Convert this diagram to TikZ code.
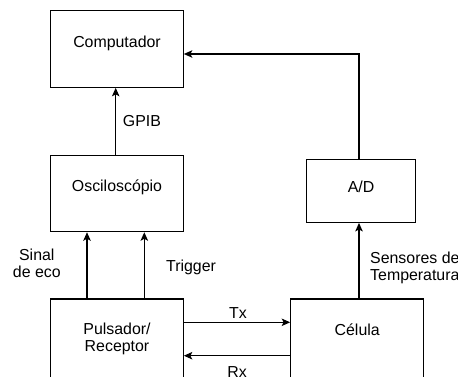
\documentclass[tikz,border=0pt]{standalone}
\usepackage{fontspec}
\setmainfont{Liberation Sans}
\usetikzlibrary{arrows.meta}
\begin{document}
\begin{tikzpicture}[x=1pt,y=-1pt,
  box/.style={draw, line width=1.1pt, inner sep=0pt, minimum width=#1},
  txt/.style={inner sep=0pt, anchor=base, font=\fontsize{15.9pt}{16.5pt}\selectfont, align=center},
  conn/.style={line width=1.1pt, -{Stealth[length=8.5pt,width=7.5pt,inset=2pt]}},
  plain/.style={line width=1.1pt}]
\useasboundingbox (0,0) rectangle (458,376);
\fill[white] (0,0) rectangle (458,376);
% boxes
\node[box=132.6pt, minimum height=76.6pt] (comp) at (117,49) {};
\node[box=132.6pt, minimum height=76.6pt] (osc) at (117,193.4) {};
\node[box=109.4pt, minimum height=63.3pt] (ad) at (361,190.7) {};
\node[box=132.6pt, minimum height=79pt] (pul) at (117,338.5) {};
\node[box=133pt, minimum height=79pt] (cel) at (357.2,338.5) {};
% box texts
\node[txt] (tcomp) at (117,47.5) {Computador};
\node[txt] (tosc) at (117,191.5) {Osciloscópio};
\node[txt] (tad) at (361,192.7) {A/D};
\node[txt] (tpul1) at (117,334.7) {Pulsador/};
\node[txt] (tpul2) at (117,351.3) {Receptor};
\node[txt] (tcel) at (357.2,335.6) {Célula};
% helper coordinates
\coordinate (xg) at (115.7,0);
\coordinate (xs) at (87,0);
\coordinate (xt) at (144.3,0);
\coordinate (xa) at (359,0);
\coordinate (yc) at (0,54);
\coordinate (ytx) at (0,322.3);
\coordinate (yrx) at (0,355.7);
% connectors
\draw[conn] (osc.north -| xg) -- (comp.south -| xg);
\draw[conn] (pul.north -| xs) -- (osc.south -| xs);
\draw[conn] (pul.north -| xt) -- (osc.south -| xt);
\draw[conn] (cel.north -| xa) -- (ad.south -| xa);
\draw[conn] (ad.north -| xa) |- (comp.east |- yc);
\draw[conn] (pul.east |- ytx) -- (cel.west |- ytx);
\draw[conn] (cel.west |- yrx) -- (pul.east |- yrx);
% labels
\node[txt, anchor=base west] (lgpib) at (122.7,126.7) {GPIB};
\node[txt] (lsinal) at (36.8,277.3) {Sinal\\de eco};
\node[txt, anchor=base west] (ltrig) at (166,271) {Trigger};
\node[txt, anchor=base west, align=left] (lsens) at (370,280) {Sensores de\\Temperatura};
\node[txt] (ltx) at (238,318) {Tx};
\node[txt] (lrx) at (237,377) {Rx};
\end{tikzpicture}
\end{document}
